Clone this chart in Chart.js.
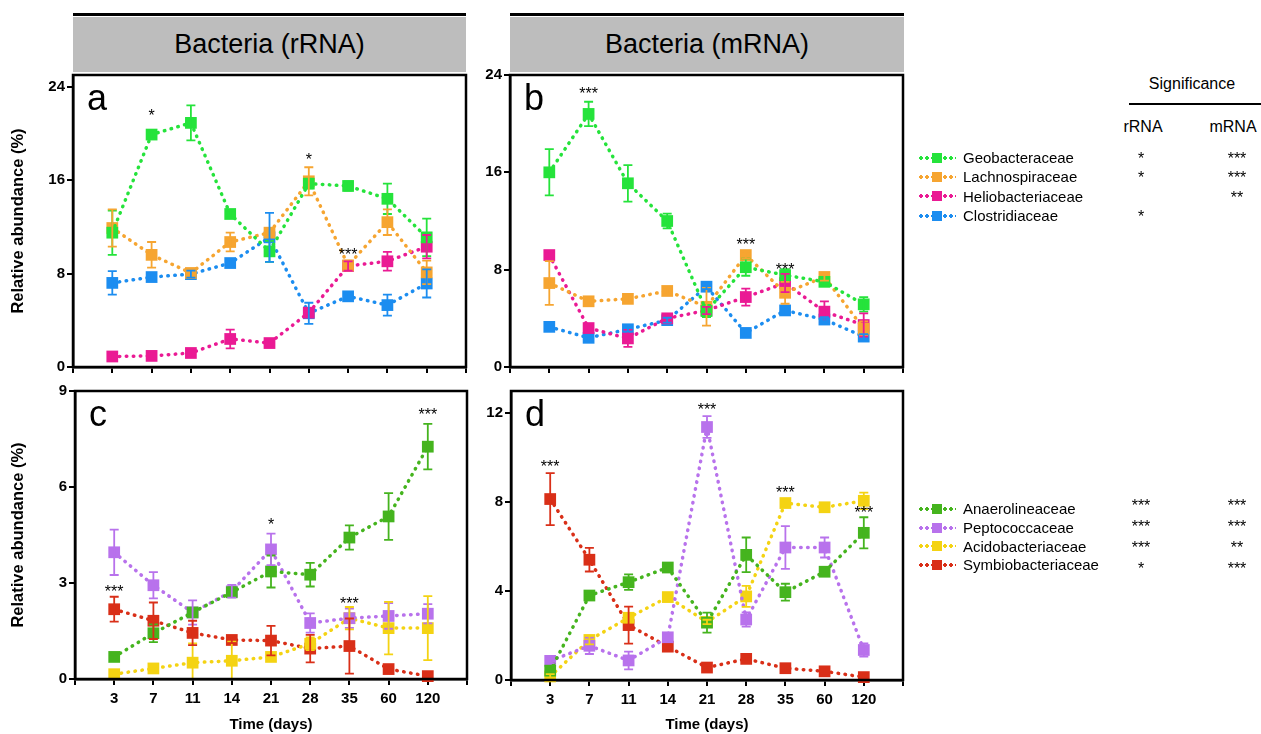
<!DOCTYPE html>
<html>
<head>
<meta charset="utf-8">
<script src="https://cdn.jsdelivr.net/npm/chart.js@4/dist/chart.umd.min.js"></script>
<style>
  html, body { margin:0; padding:0; background:#fff; }
  #root { position:relative; width:1261px; height:734px; overflow:hidden; background:#fff; font-family:"Liberation Sans", Arial, sans-serif; color:#000; }
  canvas { position:absolute; }
  .hline { position:absolute; background:#000; }
  .hbox { position:absolute; background:#bdbdbd; display:flex; align-items:center; justify-content:center; font-size:27px; }
  .txt { position:absolute; white-space:nowrap; }
  .leg { position:absolute; left:918px; }
  .row { position:relative; height:19.3px; display:flex; align-items:center; font-size:15px; }
  .sym { position:relative; width:38px; height:12px; margin-right:7px; }
  .sym .dots { position:absolute; left:0; right:0; top:4px; height:4px; }
  .sym .sq { position:absolute; left:14px; top:1px; width:10px; height:10px; }
  .star { position:absolute; transform:translateX(-50%); font-size:16px; line-height:18px; }
</style>
</head>
<body>
<div id="root">
  <div class="hline" style="left:73px; top:13px; width:393px; height:2.5px;"></div>
  <div class="hbox" style="left:73px; top:16.5px; width:393px; height:55px;">Bacteria (rRNA)</div>
  <div class="hline" style="left:510px; top:13px; width:394px; height:2.5px;"></div>
  <div class="hbox" style="left:510px; top:16.5px; width:394px; height:55px;">Bacteria (mRNA)</div>

  <canvas id="ca" width="480" height="320" style="left:0px; top:60px;"></canvas>
  <canvas id="cb" width="440" height="320" style="left:480px; top:60px;"></canvas>
  <canvas id="cc" width="480" height="354" style="left:0px; top:380px;"></canvas>
  <canvas id="cd" width="440" height="354" style="left:480px; top:380px;"></canvas>

  <div class="txt" style="left:1192px; top:84px; transform:translate(-50%,-50%); font-size:16px;">Significance</div>
  <div class="hline" style="left:1129px; top:103px; width:132px; height:2px;"></div>
  <div class="txt" style="left:1143px; top:127px; transform:translate(-50%,-50%); font-size:16px;">rRNA</div>
  <div class="txt" style="left:1233px; top:127px; transform:translate(-50%,-50%); font-size:16px;">mRNA</div>

  <div id="legTop" class="leg" style="top:148px;"></div>
  <div id="legBot" class="leg" style="top:499.5px;"></div>
</div>
<script>
// ---------------- data ----------------
const days = ['3', '7', '11', '14', '21', '28', '35', '60', '120'];

// Panel a: rRNA, family group 1
const geoR      = [11.5, 19.9, 20.9, 13.1, 9.9, 15.7, 15.5, 14.4, 11.1];
const geoRErr   = [1.9, 0.3, 1.5, 0.3, 0.9, 0.4, 0.4, 1.3, 1.6];
const lachR     = [11.9, 9.6, 8.05, 10.7, 11.5, 15.9, 8.7, 12.4, 8.1];
const lachRErr  = [1.6, 1.1, 0.3, 0.8, 0.3, 1.2, 0.4, 1.1, 1.0];
const helioR    = [0.9, 0.95, 1.2, 2.4, 2.05, 4.65, 8.65, 9.05, 10.3];
const helioRErr = [0.2, 0.2, 0.2, 0.8, 0.2, 0.3, 0.4, 0.8, 1.0];
const closR     = [7.2, 7.7, 7.95, 8.9, 11.1, 4.6, 6.05, 5.3, 7.15];
const closRErr  = [1.0, 0.3, 0.3, 0.3, 2.1, 0.9, 0.3, 0.9, 1.2];

// Panel b: mRNA, family group 1
const geoM      = [16.0, 20.8, 15.1, 12.0, 4.6, 8.2, 7.55, 7.0, 5.15];
const geoMErr   = [1.9, 1.0, 1.5, 0.6, 0.5, 0.7, 0.5, 0.3, 0.6];
const lachM     = [6.9, 5.4, 5.6, 6.25, 4.95, 9.2, 6.1, 7.4, 3.15];
const lachMErr  = [1.8, 0.3, 0.3, 0.3, 1.55, 0.3, 0.9, 0.3, 0.6];
const helioM    = [9.2, 3.2, 2.35, 4.0, 4.65, 5.75, 6.9, 4.55, 3.45];
const helioMErr = [0.3, 0.3, 0.7, 0.2, 0.3, 0.7, 0.75, 0.85, 0.95];
const closM     = [3.3, 2.4, 3.1, 3.85, 6.6, 2.8, 4.65, 3.9, 2.5];
const closMErr  = [0.2, 0.2, 0.2, 0.2, 0.2, 0.2, 0.3, 0.2, 0.2];

// Panel c: rRNA, family group 2
const anaR      = [0.69, 1.43, 2.08, 2.71, 3.36, 3.26, 4.42, 5.08, 7.26];
const anaRErr   = [0.08, 0.28, 0.1, 0.15, 0.5, 0.37, 0.38, 0.73, 0.71];
const pepR      = [3.96, 2.93, 2.08, 2.74, 4.05, 1.75, 1.9, 1.97, 2.04];
const pepRErr   = [0.71, 0.41, 0.38, 0.2, 0.49, 0.3, 0.3, 0.4, 0.3];
const acidR     = [0.15, 0.33, 0.51, 0.57, 0.69, 1.1, 1.9, 1.59, 1.59];
const acidRErr  = [0.05, 0.05, 0.6, 0.6, 0.1, 0.2, 0.35, 0.82, 1.0];
const symR      = [2.18, 1.82, 1.44, 1.22, 1.2, 0.95, 1.03, 0.31, 0.09];
const symRErr   = [0.39, 0.57, 0.38, 0.1, 0.46, 0.43, 0.86, 0.05, 0.05];

// Panel d: mRNA, family group 2
const anaM      = [0.42, 3.8, 4.4, 5.06, 2.58, 5.63, 3.95, 4.87, 6.62];
const anaMErr   = [0.1, 0.1, 0.35, 0.1, 0.45, 0.78, 0.38, 0.1, 0.7];
const pepM      = [0.86, 1.54, 0.88, 1.92, 11.38, 2.72, 5.96, 5.96, 1.35];
const pepMErr   = [0.1, 0.37, 0.4, 0.1, 0.49, 0.32, 0.96, 0.45, 0.3];
const acidM     = [0.16, 1.8, 2.8, 3.73, 2.61, 3.76, 7.96, 7.77, 8.06];
const acidMErr  = [0.1, 0.2, 0.1, 0.1, 0.1, 0.47, 0.1, 0.1, 0.37];
const symM      = [8.14, 5.41, 2.47, 1.5, 0.56, 0.95, 0.53, 0.39, 0.13];
const symMErr   = [1.17, 0.53, 0.83, 0.1, 0.1, 0.1, 0.1, 0.1, 0.05];

// y tick labels
const ticksA = [0, 8, 16, 24];
const ticksB = [0, 8, 16, 24];
const ticksC = [0, 3, 6, 9];
const ticksD = [0, 4, 8, 12];

// significance marks above points: day index, anchor value, text
const starsAIdx = [1, 5, 6],    starsAVal = [21.8, 18.1, 9.9],  starsAText = ['*', '*', '***'];
const starsBIdx = [1, 5, 6],    starsBVal = [22.8, 10.35, 8.3], starsBText = ['***', '***', '***'];
const starsCIdx = [0, 4, 6, 8], starsCVal = [2.85, 4.93, 2.47, 8.37], starsCText = ['***', '*', '***', '***'];
const starsDIdx = [0, 4, 6, 8], starsDVal = [9.74, 12.34, 8.58, 7.7], starsDText = ['***', '***', '***', '***'];

// legends & significance table
const famTop = ['Geobacteraceae', 'Lachnospiraceae', 'Heliobacteriaceae', 'Clostridiaceae'];
const sigTopR = ['*', '*', '', '*'];
const sigTopM = ['***', '***', '**', ''];
const famBot = ['Anaerolineaceae', 'Peptococcaceae', 'Acidobacteriaceae', 'Symbiobacteriaceae'];
const sigBotR = ['***', '***', '***', '*'];
const sigBotM = ['***', '***', '**', '***'];

// ---------------- styles ----------------
const colTop = ['#25e33b', '#f6a531', '#ea1a94', '#1c8df0'];
const colBot = ['#45b41e', '#b872ec', '#f4d313', '#d92f18'];
const FONT = '"Liberation Sans", Arial, sans-serif';

function mkDs(name, vals, errs, color) {
  return {
    label: name,
    data: vals.map((v, i) => ({ x: i, y: v })),
    errors: errs,
    borderColor: color,
    backgroundColor: color,
    borderWidth: 3.5,
    borderDash: [0.5, 6.5],
    borderCapStyle: 'round',
    pointStyle: 'rect',
    pointRadius: 8.3,
    pointBorderWidth: 0,
    pointBackgroundColor: color,
    pointHoverRadius: 8.3,
    tension: 0,
    fill: false,
    clip: false
  };
}

const deco = {
  id: 'deco',
  afterDatasetsDraw(chart) {
    const { ctx, chartArea: ca, scales: { x, y } } = chart;
    ctx.save();
    ctx.beginPath(); ctx.rect(ca.left, ca.top - 20, ca.right - ca.left, ca.bottom - ca.top + 20); ctx.clip();
    chart.data.datasets.forEach(ds => {
      ctx.strokeStyle = ds.borderColor;
      ctx.lineWidth = 1.8;
      ds.data.forEach((p, i) => {
        const e = ds.errors[i];
        if (!e) return;
        const px = x.getPixelForValue(p.x);
        const t = y.getPixelForValue(p.y + e);
        const b = y.getPixelForValue(p.y - e);
        ctx.beginPath();
        ctx.moveTo(px, t); ctx.lineTo(px, b);
        ctx.moveTo(px - 4.5, t); ctx.lineTo(px + 4.5, t);
        ctx.moveTo(px - 4.5, b); ctx.lineTo(px + 4.5, b);
        ctx.stroke();
      });
    });
    ctx.restore();
  },
  afterDraw(chart, args, opts) {
    const { ctx, chartArea: ca, scales: { x, y } } = chart;
    ctx.save();
    ctx.strokeStyle = '#000';
    ctx.lineWidth = 2.5;
    ctx.strokeRect(ca.left, ca.top, ca.right - ca.left, ca.bottom - ca.top);
    ctx.fillStyle = '#000';
    ctx.font = '36px ' + FONT;
    ctx.textAlign = 'left';
    ctx.textBaseline = 'alphabetic';
    ctx.fillText(opts.letter, ca.left + 14, ca.top + 35);
    ctx.font = '16px ' + FONT;
    ctx.textAlign = 'center';
    opts.idx.forEach((ix, k) => {
      ctx.fillText(opts.text[k], x.getPixelForValue(ix), y.getPixelForValue(opts.val[k]) + 9);
    });
    ctx.restore();
  }
};

function makePanel(id, datasets, yMax, yTicks, cfg) {
  return new Chart(document.getElementById(id), {
    type: 'line',
    data: { datasets },
    plugins: [deco],
    options: {
      responsive: false,
      devicePixelRatio: 1,
      animation: false,
      events: [],
      layout: { padding: { left: 0, right: cfg.padR, top: cfg.padT, bottom: 0 } },
      plugins: {
        legend: { display: false },
        tooltip: { enabled: false },
        deco: { letter: cfg.letter, idx: cfg.sIdx, val: cfg.sVal, text: cfg.sText }
      },
      scales: {
        x: {
          type: 'linear', min: -1, max: 9,
          afterBuildTicks: s => { s.ticks = [-1, 0, 1, 2, 3, 4, 5, 6, 7, 8, 9].map(v => ({ value: v })); },
          afterFit: s => { s.height = cfg.xH; },
          grid: { drawOnChartArea: false, drawTicks: true, tickLength: 6, color: '#000', lineWidth: 2 },
          border: { color: '#000', width: 2.5 },
          ticks: {
            autoSkip: false, maxRotation: 0, padding: 5, color: '#000',
            font: { family: FONT, weight: 'bold', size: 15 },
            callback: v => (cfg.xLabels && days[v] !== undefined) ? days[v] : ''
          },
          title: {
            display: !!cfg.xTitle, text: cfg.xTitle || '', color: '#000',
            font: { family: FONT, weight: 'bold', size: 15 }, padding: { top: 0, bottom: 0 }
          }
        },
        y: {
          type: 'linear', min: 0, max: yMax,
          afterBuildTicks: s => { s.ticks = yTicks.map(v => ({ value: v })); },
          afterFit: s => { s.width = cfg.yW; },
          grid: { drawOnChartArea: false, drawTicks: true, tickLength: 6, color: '#000', lineWidth: 2 },
          border: { color: '#000', width: 2.5 },
          ticks: { padding: 2, color: '#000', font: { family: FONT, weight: 'bold', size: 15 } },
          title: {
            display: !!cfg.yTitle, text: cfg.yTitle || '', color: '#000',
            font: { family: FONT, weight: 'bold', size: 16.5 }, padding: { top: 9, bottom: 0 }
          }
        }
      }
    }
  });
}

makePanel('ca', [
  mkDs(famTop[0], geoR, geoRErr, colTop[0]),
  mkDs(famTop[1], lachR, lachRErr, colTop[1]),
  mkDs(famTop[2], helioR, helioRErr, colTop[2]),
  mkDs(famTop[3], closR, closRErr, colTop[3])
], 25, ticksA, { padR: 14, padT: 15, xH: 13, yW: 73, letter: 'a', xLabels: false, yTitle: 'Relative abundance (%)',
  sIdx: starsAIdx, sVal: starsAVal, sText: starsAText });

makePanel('cb', [
  mkDs(famTop[0], geoM, geoMErr, colTop[0]),
  mkDs(famTop[1], lachM, lachMErr, colTop[1]),
  mkDs(famTop[2], helioM, helioMErr, colTop[2]),
  mkDs(famTop[3], closM, closMErr, colTop[3])
], 24, ticksB, { padR: 17, padT: 15, xH: 13, yW: 30, letter: 'b', xLabels: false,
  sIdx: starsBIdx, sVal: starsBVal, sText: starsBText });

makePanel('cc', [
  mkDs(famBot[0], anaR, anaRErr, colBot[0]),
  mkDs(famBot[1], pepR, pepRErr, colBot[1]),
  mkDs(famBot[2], acidR, acidRErr, colBot[2]),
  mkDs(famBot[3], symR, symRErr, colBot[3])
], 9, ticksC, { padR: 13, padT: 8, xH: 55, yW: 75, letter: 'c', xLabels: true, yTitle: 'Relative abundance (%)', xTitle: 'Time (days)',
  sIdx: starsCIdx, sVal: starsCVal, sText: starsCText });

makePanel('cd', [
  mkDs(famBot[0], anaM, anaMErr, colBot[0]),
  mkDs(famBot[1], pepM, pepMErr, colBot[1]),
  mkDs(famBot[2], acidM, acidMErr, colBot[2]),
  mkDs(famBot[3], symM, symMErr, colBot[3])
], 13, ticksD, { padR: 17, padT: 9, xH: 54, yW: 31, letter: 'd', xLabels: true, xTitle: 'Time (days)',
  sIdx: starsDIdx, sVal: starsDVal, sText: starsDText });

// ---------------- legends ----------------
function buildLegend(elId, names, colors, sigR, sigM, rowH, starShift, starStep) {
  const el = document.getElementById(elId);
  names.forEach((n, i) => {
    const row = document.createElement('div');
    row.className = 'row';
    row.style.height = rowH + 'px';
    const c = colors[i];
    row.innerHTML = '<div class="sym"><div class="dots" style="background: radial-gradient(circle, ' + c + ' 1.6px, transparent 2.1px) 0 0 / 6px 4px repeat-x;"></div>' +
      '<div class="sq" style="background:' + c + ';"></div></div><span>' + n + '</span>';
    el.appendChild(row);
    const yC = starShift + i * starStep;
    [[sigR[i], 1141 - 918], [sigM[i], 1237 - 918]].forEach(([s, xx]) => {
      if (!s) return;
      const st = document.createElement('div');
      st.className = 'star';
      st.textContent = s;
      st.style.left = xx + 'px';
      st.style.top = yC + 'px';
      el.appendChild(st);
    });
  });
}
buildLegend('legTop', famTop, colTop, sigTopR, sigTopM, 19.3, 2, 19.3);
buildLegend('legBot', famBot, colBot, sigBotR, sigBotM, 18.7, -3, 21.3);
</script>
</body>
</html>
